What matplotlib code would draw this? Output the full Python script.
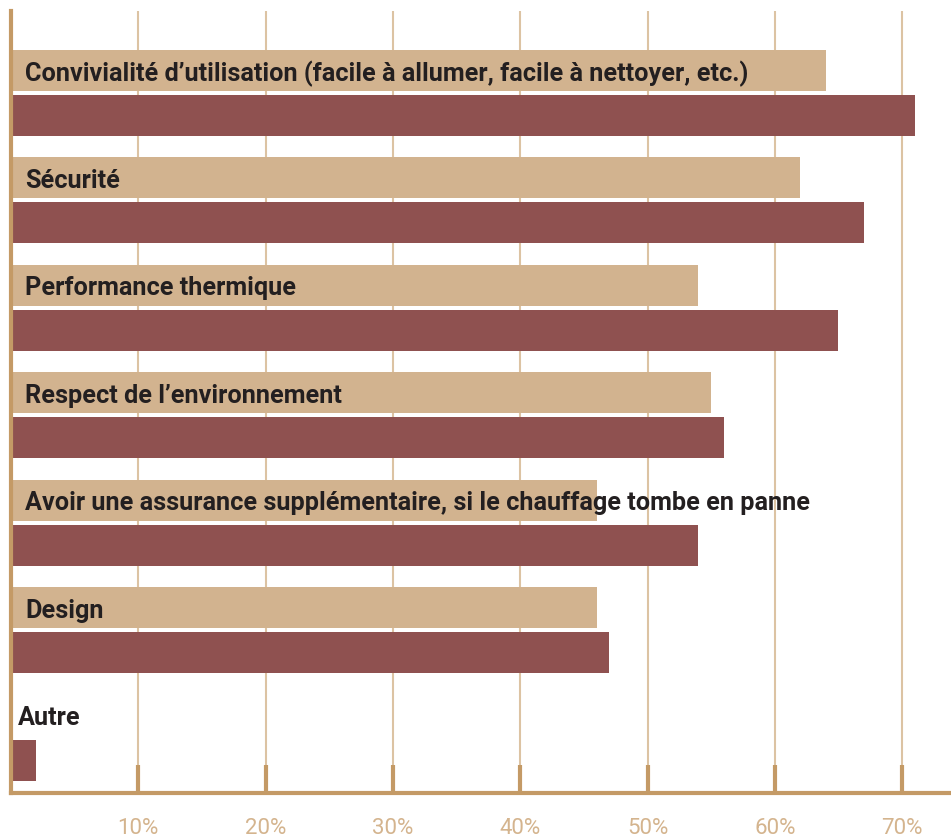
import numpy as np
import matplotlib.pyplot as plt

categories = [
    "Convivialité d\u2019utilisation (facile à allumer, facile à nettoyer, etc.)",
    "Sécurité",
    "Performance thermique",
    "Respect de l\u2019environnement",
    "Avoir une assurance supplémentaire, si le chauffage tombe en panne",
    "Design",
    "Autre",
]
series_a = [64, 62, 54, 55, 46, 46, 0]   # tan bars
series_b = [71, 67, 65, 56, 54, 47, 2]   # dark red bars
tick_values = [10, 20, 30, 40, 50, 60, 70]
tick_labels = ["10%", "20%", "30%", "40%", "50%", "60%", "70%"]

TAN = "#d2b38f"
RED = "#8f5150"
AXIS = "#c49a66"
GRID = "#dcc3a3"

plt.rcParams['font.family'] = ['Roboto', 'DejaVu Sans']

fig = plt.figure(figsize=(9.51, 8.38), dpi=100)
ax = fig.add_axes([11 / 951, 45 / 838, 940 / 951, 782 / 838])

y = np.arange(len(categories))
off = 0.21
h = 0.38
ax.barh(y - off, series_a, height=h, color=TAN, zorder=2)
ax.barh(y + off, series_b, height=h, color=RED, zorder=2)

for i, name in enumerate(categories):
    x0 = 0.55 if name == "Autre" else 1.1
    ax.text(x0, y[i] - off + 0.03, name, ha='left', va='center', fontsize=18.2,
            fontweight='bold', color='#231f20', zorder=3)

ax.set_xlim(0, 73.84)
ax.set_ylim(6.514, -0.76)
ax.set_yticks([])
ax.set_xticks(tick_values)
ax.set_xticklabels(tick_labels)
ax.tick_params(axis='x', direction='in', length=20, width=3, color=AXIS,
               labelcolor="#d4b48e", labelsize=16, pad=18)
ax.grid(axis='x', color=GRID, linewidth=1.5, zorder=1)
ax.set_axisbelow(True)

for s in ['top', 'right']:
    ax.spines[s].set_visible(False)
ax.spines['left'].set_color(AXIS)
ax.spines['left'].set_linewidth(3)
ax.spines['bottom'].set_color(AXIS)
ax.spines['bottom'].set_linewidth(3)

fig.savefig("out.png", dpi=100)
